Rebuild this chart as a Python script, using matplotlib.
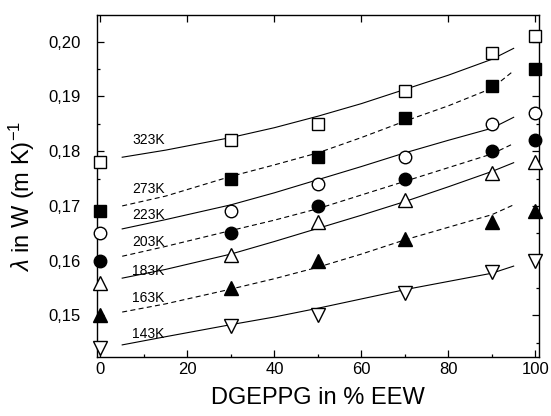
import matplotlib
matplotlib.use("Agg")
import matplotlib.pyplot as plt
from matplotlib.ticker import MultipleLocator, FuncFormatter

plt.rcParams["font.family"] = ["Liberation Sans", "DejaVu Sans"]
plt.rcParams["mathtext.fontset"] = "custom"
plt.rcParams["mathtext.rm"] = "Liberation Sans"
plt.rcParams["mathtext.it"] = "Liberation Sans:italic"

# measured conductivity, x = DGEPPG share in % EEW
x_meas = [0, 30, 50, 70, 90, 100]
lam_323 = [0.178, 0.182, 0.185, 0.191, 0.198, 0.201]
lam_273 = [0.169, 0.175, 0.179, 0.186, 0.192, 0.195]
lam_223 = [0.165, 0.169, 0.174, 0.179, 0.185, 0.187]
lam_203 = [0.160, 0.165, 0.170, 0.175, 0.180, 0.182]
lam_183 = [0.156, 0.161, 0.167, 0.171, 0.176, 0.178]
lam_163 = [0.150, 0.155, 0.160, 0.164, 0.167, 0.169]
lam_143 = [0.144, 0.148, 0.150, 0.154, 0.158, 0.160]

# model curves
x_fit = [5, 15, 30, 40, 50, 60, 70, 80, 90, 95]
fit_323 = [0.1789, 0.1802, 0.1825, 0.1843, 0.1864, 0.1887, 0.1913, 0.1939, 0.1968, 0.1988]
fit_273 = [0.1700, 0.1718, 0.1754, 0.1775, 0.1797, 0.1825, 0.1855, 0.1883, 0.1915, 0.1947]
fit_223 = [0.1658, 0.1675, 0.1702, 0.1724, 0.1748, 0.1772, 0.1797, 0.1820, 0.1842, 0.1862]
fit_203 = [0.1608, 0.1626, 0.1655, 0.1674, 0.1695, 0.1720, 0.1745, 0.1770, 0.1795, 0.1814]
fit_183 = [0.1568, 0.1584, 0.1612, 0.1635, 0.1659, 0.1683, 0.1708, 0.1735, 0.1763, 0.1779]
fit_163 = [0.1506, 0.1521, 0.1548, 0.1567, 0.1588, 0.1612, 0.1638, 0.1661, 0.1684, 0.1702]
fit_143 = [0.1446, 0.1461, 0.1483, 0.1497, 0.1513, 0.1530, 0.1547, 0.1562, 0.1577, 0.1590]

temps = ["323K", "273K", "223K", "203K", "183K", "163K", "143K"]
label_y = [0.1821, 0.1731, 0.1684, 0.1634, 0.1581, 0.1531, 0.1466]

meas = [lam_323, lam_273, lam_223, lam_203, lam_183, lam_163, lam_143]
fits = [fit_323, fit_273, fit_223, fit_203, fit_183, fit_163, fit_143]
markers = [("s", "white", 8.5), ("s", "black", 8.5), ("o", "white", 9),
           ("o", "black", 9), ("^", "white", 10), ("^", "black", 10),
           ("v", "white", 10)]
styles = ["-", (0, (4.5, 3)), "-", (0, (4.5, 3)), "-", (0, (4.5, 3)), "-"]

fig = plt.figure(figsize=(5.51, 4.16), dpi=100)
ax = fig.add_axes([0.176, 0.142, 0.802, 0.822])

for ys, fy, (m, fc, ms), ls, t, ly in zip(meas, fits, markers, styles, temps, label_y):
    ax.plot(x_fit, fy, color="black", lw=0.8, linestyle=ls)
    ax.plot(x_meas, ys, linestyle="none", marker=m, markersize=ms,
            markerfacecolor=fc, markeredgecolor="black", markeredgewidth=1.0,
            clip_on=False, zorder=3)
    ax.text(11.0, ly, t, fontsize=10, ha="center", va="center")

ax.set_xlim(-0.8, 100.8)
ax.set_ylim(0.1424, 0.2049)
ax.xaxis.set_major_locator(MultipleLocator(20))
ax.xaxis.set_minor_locator(MultipleLocator(10))
ax.yaxis.set_major_locator(MultipleLocator(0.01))
ax.yaxis.set_minor_locator(MultipleLocator(0.005))
ax.yaxis.set_major_formatter(FuncFormatter(lambda v, p: f"{v:.2f}".replace(".", ",")))

ax.tick_params(which="both", direction="in", top=True, right=True, width=0.9)
ax.tick_params(which="major", length=5, labelsize=12)
ax.tick_params(which="minor", length=2.5)
ax.tick_params(axis="x", which="minor", top=False)
ax.tick_params(axis="y", pad=12)
ax.tick_params(axis="x", pad=4)
for s in ax.spines.values():
    s.set_linewidth(1.0)

ax.set_xlabel("DGEPPG in % EEW", fontsize=17, labelpad=7)
ax.set_ylabel(r"$\mathit{\lambda}$ in W (m K)$^{\mathregular{-1}}$", fontsize=17)
ax.yaxis.set_label_coords(-0.135, 0.47)

fig.savefig("out.png", dpi=100)
